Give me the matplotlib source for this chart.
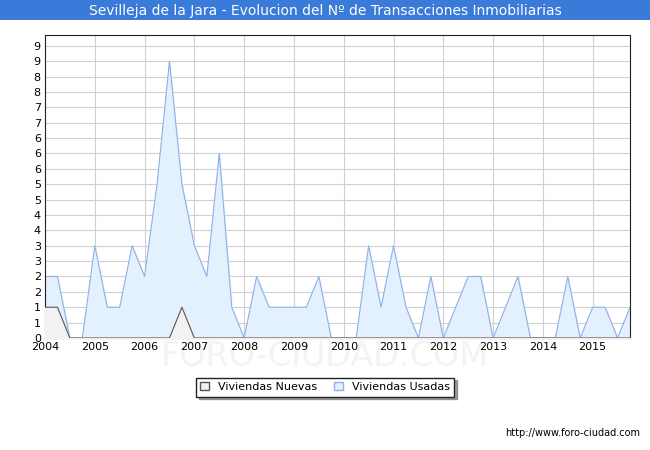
import matplotlib
matplotlib.use("Agg")
import matplotlib.pyplot as plt
import numpy as np

years = list(range(2004, 2016))
usadas = [2,2,0,0, 3,1,1,3, 2,5,9,5, 3,2,6,1, 0,2,1,1, 1,1,2,0,
          0,0,3,1, 3,1,0,2, 0,1,2,2, 0,1,2,0, 0,0,2,0, 1,1,0,1]
nuevas = [1,1,0,0, 0,0,0,0, 0,0,0,1, 0,0,0,0, 0,0,0,0, 0,0,0,0,
          0,0,0,0, 0,0,0,0, 0,0,0,0, 0,0,0,0, 0,0,0,0, 0,0,0,0]
ytick_labels = ["0","1","1","2","2","3","3","4","4","5","5","6","6","6","7","7","8","8","9","9"]

x = 2004 + np.arange(len(usadas)) / 4.0

fig = plt.figure(figsize=(6.5, 4.5), dpi=100)
fig.patch.set_facecolor("white")
bg = fig.add_axes([0, 0, 1, 1], zorder=-5)
bg.set_axis_off()
bg.set_xlim(0, 1); bg.set_ylim(0, 1)
bg.text(0.5, 1 - 357/450, "FORO-CIUDAD.COM", ha="center", va="center", fontsize=24,
        color="#f3f3f6")

fig.patches.append(plt.Rectangle((0, 1 - 20/450), 1, 20/450, transform=fig.transFigure,
                                 facecolor="#3a7ad8", edgecolor="none"))
fig.text(0.5, 1 - 11/450, "Sevilleja de la Jara - Evolucion del Nº de Transacciones Inmobiliarias",
         ha="center", va="center", color="white", fontsize=10)

ax = fig.add_axes([45/650, 1 - 338/450, 585/650, 303/450])
ax.patch.set_alpha(0)
ax.fill_between(x, usadas, color="#e3f0fd", zorder=1)
ax.plot(x, usadas, color="#8fb0e8", lw=0.8, zorder=2)
ax.fill_between(x, nuevas, color="#f2f2f2", zorder=3)
ax.plot(x, nuevas, color="#555555", lw=0.8, zorder=4)

ax.set_xlim(2004, 2015.75)
ax.set_ylim(0, 9.85)
ax.set_xticks(years)
ax.set_xticklabels([str(y) for y in years], fontsize=8)
ax.set_yticks(np.arange(len(ytick_labels)) * 0.5)
ax.set_yticklabels(ytick_labels, fontsize=8)
ax.tick_params(length=0, pad=3)
ax.grid(True, color="#d0d0d0", lw=0.8, zorder=0)
ax.set_axisbelow(True)
for s in ax.spines.values():
    s.set_color("#222222")
    s.set_linewidth(0.8)

from matplotlib.patches import Patch
leg = fig.legend(handles=[Patch(facecolor="#f2f2f2", edgecolor="#555555", label="Viviendas Nuevas"),
                          Patch(facecolor="#e3f0fd", edgecolor="#8fb0e8", label="Viviendas Usadas")],
                 loc="center", bbox_to_anchor=(0.5, 1 - 387/450), ncol=2, fontsize=8,
                 fancybox=False, frameon=True, shadow=True, handlelength=0.8, handleheight=0.8,
                 columnspacing=1.5, borderpad=0.4)
leg.get_frame().set_edgecolor("#222222")
fig.text(640/650, 1 - 433/450, "http://www.foro-ciudad.com", ha="right", va="center", fontsize=7)
fig.savefig("out.png", dpi=100)
